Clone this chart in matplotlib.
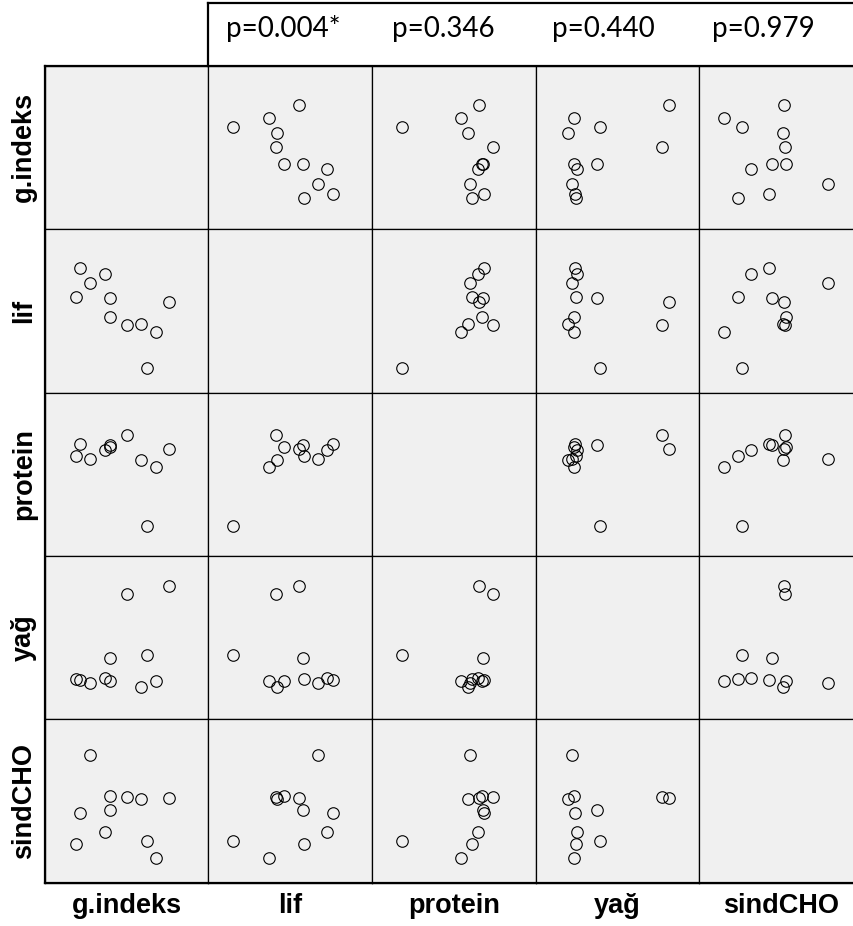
import matplotlib
matplotlib.use("Agg")
import matplotlib.pyplot as plt
from matplotlib.lines import Line2D

# Scatterplot matrix of five diet variables (11 foods), scores on a 0-100 scale
variables = ["g.indeks", "lif", "protein", "yağ", "sindCHO"]

g_indeks = [62.6, 67.9, 76.2, 58.7, 50.2, 39.8, 39.8, 36.7, 27.6, 21.5, 18.9]
lif = [15.1, 37.0, 55.1, 41.9, 41.3, 46.0, 58.0, 72.6, 66.9, 76.0, 58.7]
protein = [18.0, 54.3, 65.6, 58.5, 74.0, 66.9, 67.6, 64.6, 59.5, 68.3, 61.3]
yag = [39.5, 23.6, 81.6, 19.9, 76.8, 23.6, 37.5, 25.0, 22.0, 24.2, 24.8]
sind_cho = [25.8, 15.0, 51.6, 51.1, 52.3, 53.1, 44.4, 31.3, 78.3, 42.5, 23.6]

columns = [g_indeks, lif, protein, yag, sind_cho]

# p-values of the g.indeks correlation with each of the other variables
p_labels = ["p=0.004*", "p=0.346", "p=0.440", "p=0.979"]

W, H = 854, 926
fig = plt.figure(figsize=(W / 100, H / 100), dpi=100)

left0, top0 = 44.7, 65.7
cell_w, cell_h = 163.7, 163.4
n = len(variables)


def fx(x):
    return x / W


def fy(y):
    return 1 - y / H


for i in range(n):
    for j in range(n):
        x0 = left0 + j * cell_w
        y0 = top0 + i * cell_h
        ax = fig.add_axes([fx(x0), fy(y0 + cell_h), cell_w / W, cell_h / H])
        ax.set_facecolor("#f0f0f0")
        for sp in ax.spines.values():
            sp.set_linewidth(0.9)
            sp.set_color("black")
        ax.set_xticks([])
        ax.set_yticks([])
        ax.set_xlim(0, 100)
        ax.set_ylim(0, 100)
        if i != j:
            ax.plot(columns[j], columns[i], "o", mfc="none", mec="black",
                    ms=8.3, mew=0.8, linestyle="none")

# heavier outer frame around the grid
grid_bottom = top0 + n * cell_h
frame = [
    ([left0, left0], [top0, grid_bottom]),
    ([left0, W], [grid_bottom, grid_bottom]),
    ([left0, W], [top0, top0]),
    # header box over the four right-hand columns
    ([left0 + cell_w, W], [3, 3]),
    ([left0 + cell_w, left0 + cell_w], [3, top0]),
]
for xs, ys in frame:
    fig.add_artist(Line2D([fx(v) for v in xs], [fy(v) for v in ys],
                          color="black", linewidth=1.6,
                          transform=fig.transFigure))

# p-value header
p_x = [226, 392, 552, 712]
for x, lab in zip(p_x, p_labels):
    fig.text(fx(x), fy(37.5), lab, ha="left", va="baseline",
             fontsize=20, family="Lato", color="black")

# variable names: rows on the left, columns along the bottom
for k, name in enumerate(variables):
    fig.text(fx(24), fy(top0 + (k + 0.5) * cell_h), name, rotation=90,
             ha="center", va="center", fontsize=19.5, fontweight="bold",
             family="Liberation Sans")
    fig.text(fx(left0 + (k + 0.5) * cell_w), fy(913), name,
             ha="center", va="baseline", fontsize=19.5, fontweight="bold",
             family="Liberation Sans")

fig.savefig("out.png", dpi=100)
